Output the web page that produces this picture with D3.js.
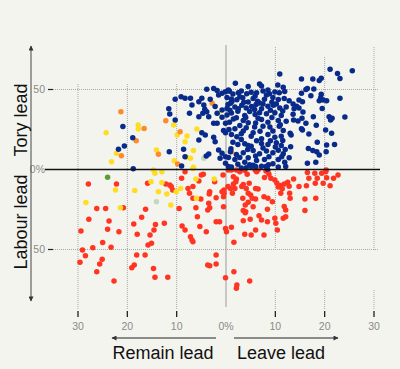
<!DOCTYPE html>
<html><head><meta charset="utf-8">
<script src="https://cdn.jsdelivr.net/npm/d3@7"></script>
<style>html,body{margin:0;padding:0;background:#f4f4ef;}svg{display:block;}</style>
</head><body>
<script>
// [leave lead (negative = remain lead), tory lead (negative = labour lead)]
const conservative = [
[21.1,62.7],[25.6,61.7],[22.6,60],[23.1,56.9],[15.3,56.6],[17.6,56.6],[18.9,55.7],[19.3,57],[16.5,50.7],[16.2,50],[17.8,50.3],[15.3,47.6],[17.2,46.1],[19.3,47],[19.2,44.9],[19.7,43.4],[18.9,43],[20.4,43],[23.1,44.5],[24.1,32.8],
[12.8,43],[13.6,41],[14.8,43.4],[15.5,42.4],[14.3,39.5],[19.5,38.2],[13.8,38],[14.8,38.5],[15.6,36],[15.4,32],[14.6,30.3],[13.7,31],[13.6,34.5],[17.7,33],[20.9,33],[21.2,31],[21.5,32],[16.2,28.9],[18.3,27.6],[20.2,24.7],[21.4,22.6],[15.5,24.7],[15.3,25.5],[16.8,22.2],[13,22.6],[13.2,21.6],[18.5,17],[20.4,15.3],[22,15.7],[16.7,13.2],[17.6,11.8],[18.4,11.1],[18.9,9],[20.3,11.1],[13.1,14.2],[12.8,7.4],[16.5,3.9],[18.2,4.5],
[10.9,59.7],[1.9,53.9],[6.8,53.4],[7.2,52.2],[4.5,51.8],[10.5,52.8],[11.6,51.4],[8.5,49.7],
[0.7,48.9],[1.4,47.2],[2.5,47.9],[3.1,49.1],[4.2,47.4],[5.1,48.3],[6.2,47.9],[7.5,49],[8.8,47.3],[9.9,48.4],[10.8,47.9],[11.9,48.8],
[1.1,44.1],[2.2,43.6],[3.4,44.9],[4.5,42.2],[5.5,44.3],[6.4,42.7],[7.8,43.9],[9.3,42.1],[10.6,43.7],[11.8,44.3],
[0.4,40.6],[1.8,39.1],[3.2,40.1],[4.1,38.5],[5.2,39.4],[6.1,40.7],[7.2,37.9],[8.5,39.6],[9.6,40.1],[10.9,38.4],[12.2,39],
[1.1,35.3],[2.4,36.4],[3.8,33.8],[4.8,36.3],[5.9,34.4],[6.8,35.4],[8.2,34.8],[9.9,35.5],[11.2,33.8],
[0.7,29.6],[2.1,32.3],[3.5,30.6],[4.5,29.2],[7.2,31.2],[8.5,29.6],[10.6,30.6],[12.2,30.1],
[1.8,25.4],[4.1,26.1],[5.8,26.5],[6.9,23.9],[8.9,26.5],[10.8,27.1],[11.6,24.4],
[1.1,21.9],[3.1,22.3],[5.1,20.8],[7.2,19.2],[8.5,21.9],[9.9,20.2],[11.2,20.8],[11.5,18.1],[1.4,17.1],[3.1,18.7],
[2.4,15.6],[3.8,16.1],[5.1,14.6],[7.2,16.2],[8.5,15.6],[10.2,16.7],[11.2,15],
[2.1,9.4],[3.5,10.4],[5.5,11.9],[6.8,9.8],[8.2,11.5],[9.5,10.4],[10.6,12],[11.6,9.8],
[1.8,6.2],[3.8,4.6],[4.5,7.3],[6.2,5.6],[7.8,6.2],[9.5,3.6],[10.6,6.2],[11.9,4.6],
[1.1,1.6],[3.1,0.9],[5.5,2.6],[7.2,2.1],[10.6,1.6],
[0.2,45],[2.8,45.5],[5.9,46],[8.2,46.5],[9.5,45],[3.6,42],[6.8,41.5],[1.2,42.5],[10.2,41],[7.5,41],[2.5,38],[5.8,37.5],[9,37],[0.8,37],[11.5,36.5],[4,32.5],[6.5,32],[9.3,32.5],[1.5,31.5],[11,28],[6,29],[2.8,27.5],[7.5,27],[3.5,24],[9.5,24],[0.6,25],[5.5,23],[2.2,20.5],[6.2,18],[9,18],[4.5,15],[1,13],[7.5,13.5],[10,14],[4.4,12.5],[2.8,7.5],[8.7,8],[6,8.5],[0.5,7.5],[12,12.5],[4.8,3],[8.6,3],[2.4,3.3],[11.3,8],
[-3.9,50.1],[-2.5,50.7],[-1.8,49.3],[-0.8,47.6],[-0.1,48.6],[-9.1,45.5],[-8.3,44.5],[-7.2,44.5],[-4.9,44.5],[-5.5,42.4],[-3.2,43.9],[-1.5,46.6],[-10.3,43.9],[-6.9,40.3],[-7.4,35.1],[-4.5,40.3],[-4.3,37.6],[-4.7,35.1],[-3.9,36.1],[-2.2,39.3],[-1.8,35.1],[-0.8,37.2],[0.2,38.2],[-5.5,33],[-3.5,33],[-0.8,32.6],[-10.3,30.9],[-1.8,28.9],[-2.5,28.9],[-0.1,28.9],[-4.9,23],[-4.2,21.6],[-2.5,20.1],[-2.2,17.4],[-5.5,18.4],[-0.5,24.3],[-0.1,23],[-8.6,12.6],[-8.3,8],[-1.5,12.2],[-0.8,10.1],[-0.1,8],[-1.2,7],[-4,8.4],[-3.5,9.7],[0.5,1.8],[-0.1,3.9],[-11.6,38],[-11.4,34.7],[-9,2.2],[-18.8,0.5],[-20.9,26.8],[-18.9,19.9],[-21.8,12.6],[-20.6,14.7],[-11.5,11.1],[4.1,1.1],[5.1,1.8],[6,1.8],[8.1,1.8],[8.4,0.3],[12.1,1.8],[0.5,49.7],[0.2,34],[0.9,41.4],[0.9,11.1]
];
const labour = [
[-27.9,-9.1],[-22.2,-9.1],[-26.2,-24.3],[-24.4,-24.3],[-20.8,-23.9],[-27.8,-31.1],[-23.7,-32.2],[-29.4,-38.4],[-24,-37.4],[-21.7,-38.9],[-25,-45.7],[-23.3,-48.6],[-27,-48.9],[-29.1,-50.3],[-28.5,-53.9],[-25.1,-56.1],[-25.6,-59.1],[-29.6,-58],[-26.2,-63.9],[-22.7,-69.7],[-15.9,-8.6],[-12.2,-9.1],[-16.3,-24.9],[-17.1,-29.9],[-18.7,-34.1],[-14.3,-34.3],[-12.5,-33.6],[-18,-40.5],[-14.6,-37.8],[-15.4,-40.9],[-15.1,-46.1],[-15.8,-47.2],[-18.1,-53.4],[-16.4,-53.4],[-18.6,-59.7],[-19.1,-61.4],[-14.7,-61.8],[-14.4,-67.4],[-11.8,-67.4],[-9.5,-24.3],
[-8.3,-1.4],[-11.4,-9.7],[-11.1,-10.7],[-10.8,-12.8],[-7.7,-11.8],[-6.7,-10.7],[-5.5,-7.2],[-5,-3.4],[-2.3,-7.6],[-0.6,-3.4],[-7.4,-14.9],[-6.7,-18],[-5.1,-18.4],[-3.3,-13.9],[-3.4,-15.3],[-2,-17.6],[-0.8,-13.9],[-0.4,-12.8],[0.4,-10.7],[0.9,-11.8],[1.8,-11.8],[2.1,-5.9],[2,-7.6],[3.2,-10.7],[4.1,-11.8],[4.7,-8.6],[5,-15.9],[5.3,-18],[2.8,-1.4],[2.1,-0.3],[5.9,-0.3],[4.3,-3],[-6.1,-23.9],[-3.5,-21.1],[-3.3,-23.9],[-3.7,-25.3],[-0.5,-23.3],[-5.8,-29.5],[-8.9,-35.3],[-8.3,-37.8],[-5.3,-35.7],[-4,-38.9],[-2,-32.6],[-1.3,-32.6],[-0.1,-36.8],[0.1,-38.9],[1.1,-36.1],[3.8,-40.5],[5.1,-40.9],[4,-26.4],[4.5,-20.5],[-7.2,-42],[-6.9,-44.1],[-6.7,-45.1],[1.6,-45.5],[-2,-53.4],[-3.7,-59.7],[-3.3,-60.1],[-2,-59.1],[1.6,-63.9],[-0.1,-67.6],[4.8,-69.7],[2.2,-72.2],[2.1,-74.2],
[3.4,-18],[3.9,-22.2],[5.5,-23.3],[3.5,-25.7],[3.9,-27],[3.5,-32],[4.9,-31.1],[7.2,-31.6],[-0.4,-14.9],[-0.5,-17],[1.3,-14.9],[1.5,-9.1],[3.5,-9.3],[1.5,-4.5],[4.5,-14.9],[1.1,-0.3],[3.8,-0.7],[6.5,-0.3],[8.5,-0.7],[0.5,-0.3],[-9,-5.5],[-4.6,-3],
[6.2,-1.4],[8.1,-0.9],[8.7,-3],[9.1,-5.5],[9.9,-6.6],[7.8,-5],[13.7,-5.9],[10.3,-8.5],[11,-10],[11.8,-9],[12.5,-8],[12.8,-10.5],[11.4,-12],[10.6,-11],[14.8,-10.7],[16.3,-10.1],[16.8,-5.5],[16.5,-1.8],[18,-2.4],[18.5,-5.5],[18.1,-8.6],[19.7,-8.6],[19.4,-2.4],[20.2,-1.4],[20.4,-5.1],[21.1,-10.1],[21.8,-5.5],[22.7,-3.4],[20.3,-0.3],[6,-11.8],[6.5,-12.2],[6,-18.4],[7.7,-17],[8.5,-18],[9.4,-20.1],[11.1,-14.9],[12.9,-14.9],[13,-18],[16,-18.4],[18.2,-18],[16,-25.7],[8.4,-24.9],[6.7,-28.9],[8.4,-32.6],[9.9,-30.5],[10.1,-33.6],[11.8,-23.2],[12.1,-25.3],[12.1,-29.5],[11.6,-30.5],[10.4,-37.8],[7.7,-40.9],[6,-37.8]
];
const libDem = [[-21.3,36.1],[-16.6,25.7],[-18.2,18],[-21.2,8.6],[-13.7,9.5],[-12.2,30.5],[-9.8,3.4],[-2.8,41.4],[-9.3,23.6],[1.1,11.1]];
const snp = [[-24.3,23],[-17.8,27.8],[-17.8,25.3],[-22.2,10.1],[-23.2,4.9],[-14.1,12.2],[-10.5,5.5],[-10.6,27.8],[-5.9,25.3],[-9.9,21.6],[-7.9,20.9],[-8.3,17.4],[-6.6,11.8],[-7.9,7.6],[-7.2,7],[-6.6,1.4],[-14.7,-0.3],[-14.4,-2.4],[-13,-1.4],[-15.2,-7.6],[-18.5,-13.2],[-13,-8.2],[-13.7,-13.9],[-12,-15.3],[-11.2,-22.2],[-22.4,-12.8],[-28.4,-20.7],[-21.4,-23.9],[-6.7,0.7],[-10.1,-13.9],[-9.2,-11.8],[-6.1,-5.9],[-2.4,-5.9],[-6,-18],[-1.6,35.1]];
const green = [[-24,-4.9]];
const plaid = [[-14.1,-20.1],[-4.5,7]];
const xTicks = [-30,-20,-10,10,20,30];
const yTicks = [-50,50];

const W = 400, H = 369;
const svg = d3.select("body").append("svg").attr("width", W).attr("height", H);
svg.append("rect").attr("width", W).attr("height", H).attr("fill", "#f4f4ef");
const x = d3.scaleLinear().domain([-30, 30]).range([78, 374]);
const y = d3.scaleLinear().domain([-50, 50]).range([249.5, 89.5]);
const grid = "#a8a8a8";
const font = "'Liberation Sans', Arial, sans-serif";

svg.selectAll(".hg").data(yTicks).enter().append("line")
  .attr("x1", 53).attr("x2", 378).attr("y1", d => y(d)).attr("y2", d => y(d))
  .attr("stroke", grid).attr("stroke-dasharray", "1,1");
xTicks.forEach(t => {
  if (t < 0) {
    svg.append("line").attr("x1", x(t)).attr("x2", x(t)).attr("y1", 84).attr("y2", 310)
      .attr("stroke", grid).attr("stroke-dasharray", "1,1");
  } else {
    const top = t === 20 ? 57 : 47;
    svg.append("line").attr("x1", x(t)).attr("x2", x(t)).attr("y1", top).attr("y2", 250)
      .attr("stroke", grid).attr("stroke-dasharray", "1,1");
    svg.append("line").attr("x1", x(t)).attr("x2", x(t)).attr("y1", 290).attr("y2", 310)
      .attr("stroke", grid).attr("stroke-dasharray", "1,1");
  }
});
svg.append("line").attr("x1", x(0)).attr("x2", x(0)).attr("y1", 45).attr("y2", 307)
  .attr("stroke", "#9a9a9a").attr("stroke-width", 1);
svg.selectAll(".yt").data(yTicks).enter().append("line")
  .attr("x1", 48).attr("x2", 53).attr("y1", d => y(d)).attr("y2", d => y(d))
  .attr("stroke", "#222").attr("stroke-width", 1.2);
svg.selectAll(".yl").data(yTicks.concat([0])).enter().append("text")
  .attr("x", 45).attr("y", d => y(d)).attr("dy", "0.35em").attr("text-anchor", "end")
  .attr("font-family", font).attr("font-size", 10.5).attr("fill", "#8a8a8a")
  .text(d => d === 0 ? "0%" : Math.abs(d));
svg.selectAll(".xt").data(xTicks).enter().append("line")
  .attr("x1", d => x(d)).attr("x2", d => x(d)).attr("y1", 311).attr("y2", 317)
  .attr("stroke", "#222").attr("stroke-width", 1.3);
svg.selectAll(".xl").data(xTicks.concat([0])).enter().append("text")
  .attr("x", d => x(d)).attr("y", 330).attr("text-anchor", "middle")
  .attr("font-family", font).attr("font-size", 10.5).attr("fill", "#8a8a8a")
  .text(d => d === 0 ? "0%" : Math.abs(d));

const layers = [
  [labour, "#ff3522"], [snp, "#ffdd22"], [libDem, "#ff8a2a"], [green, "#5e9e30"], [plaid, "#c2d9bd"], [conservative, "#082a8a"]
];
layers.forEach(([data, col]) => {
  svg.append("g").selectAll("circle").data(data).enter().append("circle")
    .attr("cx", d => x(d[0])).attr("cy", d => y(d[1])).attr("r", 2.75).attr("fill", col);
});

svg.append("line").attr("x1", 45).attr("x2", 380).attr("y1", y(0)).attr("y2", y(0))
  .attr("stroke", "#111").attr("stroke-width", 1.3);

const defs = svg.append("defs");
defs.append("marker").attr("id", "ah").attr("viewBox", "0 0 10 10").attr("refX", 9).attr("refY", 5)
  .attr("markerWidth", 7).attr("markerHeight", 5).attr("orient", "auto-start-reverse")
  .append("path").attr("d", "M0,0L10,5L0,10z").attr("fill", "#333");
svg.append("line").attr("x1", 31).attr("x2", 31).attr("y1", 46).attr("y2", 301)
  .attr("stroke", "#444").attr("stroke-width", 1)
  .attr("marker-start", "url(#ah)").attr("marker-end", "url(#ah)");
svg.append("line").attr("x1", 216).attr("x2", 112).attr("y1", 338).attr("y2", 338)
  .attr("stroke", "#222").attr("stroke-width", 1).attr("marker-end", "url(#ah)");
svg.append("line").attr("x1", 234).attr("x2", 338).attr("y1", 338).attr("y2", 338)
  .attr("stroke", "#222").attr("stroke-width", 1).attr("marker-end", "url(#ah)");

svg.append("text").attr("transform", "translate(27,120) rotate(-90)").attr("text-anchor", "middle")
  .attr("font-family", font).attr("font-size", 18).attr("fill", "#111").text("Tory lead");
svg.append("text").attr("transform", "translate(27,222) rotate(-90)").attr("text-anchor", "middle")
  .attr("font-family", font).attr("font-size", 18).attr("fill", "#111").text("Labour lead");
svg.append("text").attr("x", 163).attr("y", 359).attr("text-anchor", "middle")
  .attr("font-family", font).attr("font-size", 18).attr("fill", "#111").text("Remain lead");
svg.append("text").attr("x", 281).attr("y", 359).attr("text-anchor", "middle")
  .attr("font-family", font).attr("font-size", 18).attr("fill", "#111").text("Leave lead");
</script>
</body></html>
